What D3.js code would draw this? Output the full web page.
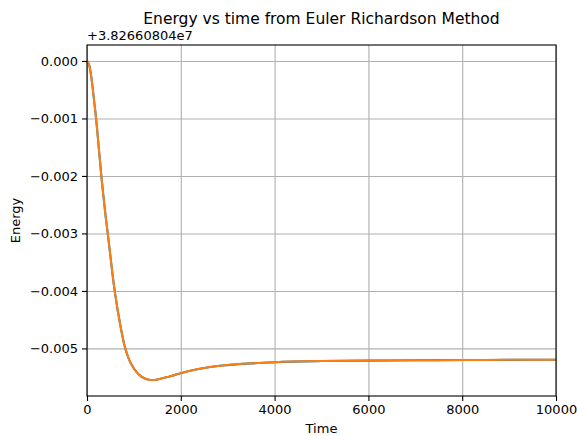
<!DOCTYPE html>
<head>
    <meta charset="utf-8">
    <script src="https://d3js.org/d3.v7.min.js"></script>
    <style>
        html, body { padding: 0; margin: 0; background: #fff; }
        svg { display: block; font-family: "DejaVu Sans", sans-serif; }
        .grid line { stroke: #b0b0b0; stroke-width: 1.1; }
        .grid path { display: none; }
        .axis path, .axis line { stroke: #000; stroke-width: 1.1; }
        .axis text { font-size: 13px; fill: #000; font-family: "DejaVu Sans", sans-serif; }
    </style>
</head>

<body>
<svg width="577" height="436"></svg>
<script>
    // offset added by the axis: +3.82660804e7
    var offsetLabel = "+3.82660804e7";
    var times = [0, 50, 100, 150, 200, 250, 300, 350, 400, 450, 500, 550, 600, 700, 800, 900,
                 1000, 1100, 1200, 1300, 1400, 1500, 1600, 1800, 2000, 2250, 2500, 2750, 3000,
                 3500, 4000, 5000, 6000, 7000, 8000, 9000, 10000];
    // energy minus offset, in units of 1e-3
    var energyA = [0, -0.08, -0.33, -0.68, -1.05, -1.5, -1.95, -2.35, -2.72, -3.05, -3.4, -3.75, -4.05,
                   -4.55, -4.95, -5.2, -5.35, -5.45, -5.51, -5.54, -5.55, -5.54, -5.52, -5.48, -5.43,
                   -5.38, -5.34, -5.31, -5.29, -5.26, -5.24, -5.22, -5.212, -5.206, -5.202, -5.199, -5.196];
    var energyB = energyA.slice();
    var xTicks = [0, 2000, 4000, 6000, 8000, 10000];
    var yTicks = [0, -0.001, -0.002, -0.003, -0.004, -0.005];

    var margin = {top: 45, right: 21, bottom: 40, left: 87};
    var width = 577 - margin.left - margin.right;
    var height = 436 - margin.top - margin.bottom;

    var svg = d3.select("svg");
    var g = svg.append("g")
        .attr("transform", "translate(" + margin.left + "," + margin.top + ")");

    var x = d3.scaleLinear().domain([0, 10000]).range([0, width]);
    var y = d3.scaleLinear().domain([-0.0058275, 0.0002775]).range([height, 0]);

    var fmt = function(d) { return d3.format(".3f")(d).replace("-", "\u2212"); };

    // grid
    g.append("g").attr("class", "grid")
        .attr("transform", "translate(0," + height + ")")
        .call(d3.axisBottom(x).tickValues(xTicks).tickSize(-height).tickFormat(""));
    g.append("g").attr("class", "grid")
        .call(d3.axisLeft(y).tickValues(yTicks).tickSize(-width).tickFormat(""));

    var line = d3.line()
        .x(function(d) { return x(d.t); })
        .y(function(d) { return y(d.e / 1000); })
        .curve(d3.curveMonotoneX);

    var seriesA = times.map(function(t, i) { return {t: t, e: energyA[i]}; });
    var seriesB = times.map(function(t, i) { return {t: t, e: energyB[i]}; });

    g.append("path").datum(seriesA)
        .attr("fill", "none").attr("stroke", "#1f77b4").attr("stroke-width", 2.1)
        .attr("d", line);
    g.append("path").datum(seriesB)
        .attr("fill", "none").attr("stroke", "#ff7f0e").attr("stroke-width", 2)
        .attr("d", line);

    // frame
    g.append("rect")
        .attr("width", width).attr("height", height)
        .attr("fill", "none").attr("stroke", "#000").attr("stroke-width", 1.1);

    g.append("g").attr("class", "axis")
        .attr("transform", "translate(0," + height + ")")
        .call(d3.axisBottom(x).tickValues(xTicks).tickSize(5).tickPadding(4).tickFormat(d3.format("d")))
        .call(function(a) { a.select(".domain").remove(); });

    g.append("g").attr("class", "axis")
        .call(d3.axisLeft(y).tickValues(yTicks).tickSize(5).tickPadding(4).tickFormat(fmt))
        .call(function(a) { a.select(".domain").remove(); });

    g.append("text")
        .attr("x", 0).attr("y", -5)
        .style("font-size", "13px")
        .text(offsetLabel);

    svg.append("text")
        .attr("x", margin.left + width / 2).attr("y", 24)
        .attr("text-anchor", "middle")
        .style("font-size", "15.5px")
        .text("Energy vs time from Euler Richardson Method");

    svg.append("text")
        .attr("x", margin.left + width / 2).attr("y", 433)
        .attr("text-anchor", "middle")
        .style("font-size", "13px")
        .text("Time");

    svg.append("text")
        .attr("transform", "translate(20," + (margin.top + height / 2) + ") rotate(-90)")
        .attr("text-anchor", "middle")
        .style("font-size", "13px")
        .text("Energy");
</script>
</body>
